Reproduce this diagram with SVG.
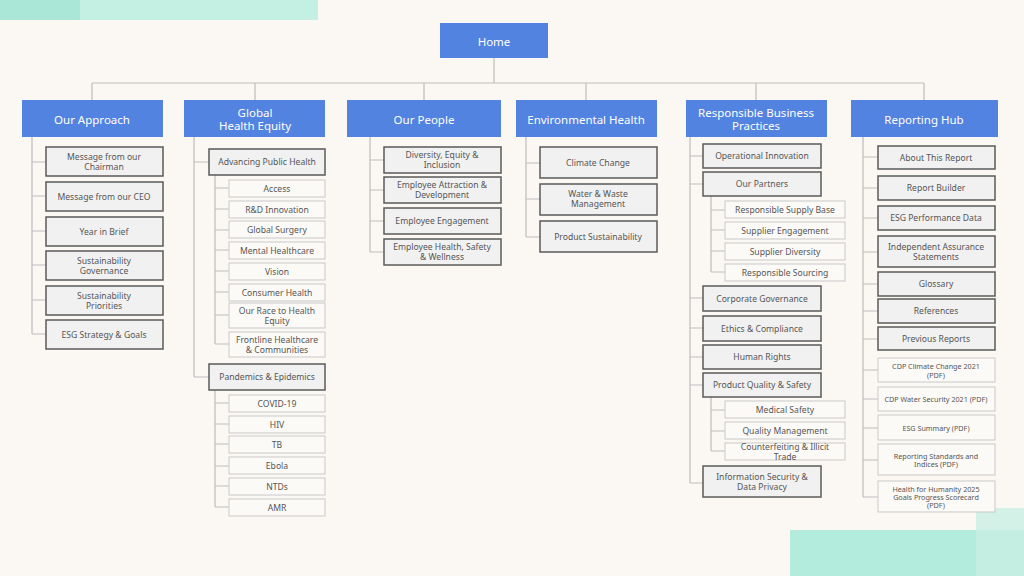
<svg xmlns="http://www.w3.org/2000/svg" width="1024" height="576" viewBox="0 0 1024 576">
<style>
text{font-family:"Noto Sans","Open Sans",sans-serif;text-anchor:middle;dominant-baseline:central}
.h rect{fill:#5383e0}
.h text{fill:#fff;font-size:11.5px}
.b rect{fill:#f1f1f1;stroke:#5a5a5a;stroke-width:1.5}
.b text{fill:#555;font-size:8.6px}
.l rect{fill:#fcfaf7;stroke:#c9c9c9;stroke-width:1}
.l text{fill:#555;font-size:8.6px}
.s text{font-size:7.2px}
#conn path{fill:none;stroke:#bdbdbd;stroke-width:1.2}
</style>
<rect width="1024" height="576" fill="#fbf8f4"/>
<rect x="0" y="0" width="318" height="20" fill="#c3f0e3"/>
<rect x="0" y="0" width="80" height="20" fill="#abe7d7"/>
<rect x="790" y="530" width="234" height="46" fill="#b3ecdc"/>
<rect x="976" y="508" width="48" height="68" fill="#c9efe4" opacity="0.8"/>
<g id="conn">
<path d="M494 58V83M92 83H924M92 83V100M255 83V100M424 83V100M586 83V100M756 83V100M924 83V100"/>
<path d="M32 137V334M32 162H46M32 196H46M32 231H46M32 265H46M32 300H46M32 334H46"/>
<path d="M194 137V377M194 162H209M194 377H209M215 175V344M215 188H229M215 209H229M215 230H229M215 250H229M215 271H229M215 292H229M215 315H229M215 344H229M215 390V507M215 403H229M215 424H229M215 444H229M215 466H229M215 486H229M215 507H229"/>
<path d="M370 137V252M370 160H384M370 190H384M370 221H384M370 252H384"/>
<path d="M526 137V237M526 163H540M526 199H540M526 237H540"/>
<path d="M690 137V483M690 156H703M690 184H703M690 298H703M690 328H703M690 357H703M690 385H703M690 483H703M711 196V272M711 210H725M711 230H725M711 251H725M711 272H725M711 397V451M711 410H725M711 431H725M711 451H725"/>
<path d="M863 137V497M863 157H878M863 188H878M863 218H878M863 252H878M863 284H878M863 311H878M863 339H878M863 370H878M863 399H878M863 428H878M863 460H878M863 497H878"/>
</g>
<g id="home" class="h"><rect x="440" y="23" width="108" height="35"/><text x="494" y="41">Home</text></g>
<g id="approach" class="h"><rect x="22" y="100" width="141" height="37"/><text x="92" y="119">Our Approach</text></g>
<g id="ghe" class="h"><rect x="184" y="100" width="141" height="37"/><text x="255" y="112">Global</text><text x="255" y="125.5">Health Equity</text></g>
<g id="people" class="h"><rect x="347" y="100" width="154" height="37"/><text x="424" y="119">Our People</text></g>
<g id="env" class="h"><rect x="516" y="100" width="141" height="37"/><text x="586" y="119">Environmental Health</text></g>
<g id="rbp" class="h"><rect x="686" y="100" width="141" height="37"/><text x="756" y="112">Responsible Business</text><text x="756" y="125.5">Practices</text></g>
<g id="hub" class="h"><rect x="851" y="100" width="147" height="37"/><text x="924" y="119">Reporting Hub</text></g>

<g id="a1" class="b"><rect x="46" y="147" width="117" height="29"/><text x="104" y="157">Message from our</text><text x="104" y="167">Chairman</text></g>
<g id="a2" class="b"><rect x="46" y="182" width="117" height="29"/><text x="104" y="197">Message from our CEO</text></g>
<g id="a3" class="b"><rect x="46" y="217" width="117" height="29"/><text x="104" y="232">Year in Brief</text></g>
<g id="a4" class="b"><rect x="46" y="251" width="117" height="29"/><text x="104" y="261">Sustainability</text><text x="104" y="271">Governance</text></g>
<g id="a5" class="b"><rect x="46" y="286" width="117" height="29"/><text x="104" y="296">Sustainability</text><text x="104" y="306">Priorities</text></g>
<g id="a6" class="b"><rect x="46" y="320" width="117" height="29"/><text x="104" y="335">ESG Strategy &amp; Goals</text></g>

<g id="g1" class="b"><rect x="209" y="149" width="116" height="26"/><text x="267" y="162">Advancing Public Health</text></g>
<g id="g1a" class="l"><rect x="229" y="180" width="96" height="17"/><text x="277" y="188.5">Access</text></g>
<g id="g1b" class="l"><rect x="229" y="201" width="96" height="17"/><text x="277" y="209.5">R&amp;D Innovation</text></g>
<g id="g1c" class="l"><rect x="229" y="221" width="96" height="17"/><text x="277" y="229.5">Global Surgery</text></g>
<g id="g1d" class="l"><rect x="229" y="242" width="96" height="17"/><text x="277" y="250.5">Mental Healthcare</text></g>
<g id="g1e" class="l"><rect x="229" y="263" width="96" height="17"/><text x="277" y="271.5">Vision</text></g>
<g id="g1f" class="l"><rect x="229" y="284" width="96" height="17"/><text x="277" y="292.5">Consumer Health</text></g>
<g id="g1g" class="l"><rect x="229" y="303" width="96" height="25"/><text x="277" y="311">Our Race to Health</text><text x="277" y="321">Equity</text></g>
<g id="g1h" class="l"><rect x="229" y="332" width="96" height="25"/><text x="277" y="340">Frontline Healthcare</text><text x="277" y="350">&amp; Communities</text></g>
<g id="g2" class="b"><rect x="209" y="364" width="116" height="26"/><text x="267" y="377">Pandemics &amp; Epidemics</text></g>
<g id="g2a" class="l"><rect x="229" y="395" width="96" height="17"/><text x="277" y="403.5">COVID-19</text></g>
<g id="g2b" class="l"><rect x="229" y="416" width="96" height="17"/><text x="277" y="424.5">HIV</text></g>
<g id="g2c" class="l"><rect x="229" y="436" width="96" height="17"/><text x="277" y="444.5">TB</text></g>
<g id="g2d" class="l"><rect x="229" y="457" width="96" height="17"/><text x="277" y="465.5">Ebola</text></g>
<g id="g2e" class="l"><rect x="229" y="478" width="96" height="17"/><text x="277" y="486.5">NTDs</text></g>
<g id="g2f" class="l"><rect x="229" y="499" width="96" height="17"/><text x="277" y="507.5">AMR</text></g>

<g id="p1" class="b"><rect x="384" y="147" width="117" height="26"/><text x="442" y="155">Diversity, Equity &amp;</text><text x="442" y="165">Inclusion</text></g>
<g id="p2" class="b"><rect x="384" y="177" width="117" height="26"/><text x="442" y="185">Employee Attraction &amp;</text><text x="442" y="195">Development</text></g>
<g id="p3" class="b"><rect x="384" y="208" width="117" height="26"/><text x="442" y="221">Employee Engagement</text></g>
<g id="p4" class="b"><rect x="384" y="239" width="117" height="26"/><text x="442" y="247">Employee Health, Safety</text><text x="442" y="257">&amp; Wellness</text></g>

<g id="e1" class="b"><rect x="540" y="147" width="117" height="31"/><text x="598" y="163">Climate Change</text></g>
<g id="e2" class="b"><rect x="540" y="184" width="117" height="31"/><text x="598" y="194">Water &amp; Waste</text><text x="598" y="204">Management</text></g>
<g id="e3" class="b"><rect x="540" y="221" width="117" height="31"/><text x="598" y="237">Product Sustainability</text></g>

<g id="r1" class="b"><rect x="703" y="144" width="118" height="24"/><text x="762" y="156">Operational Innovation</text></g>
<g id="r2" class="b"><rect x="703" y="172" width="118" height="24"/><text x="762" y="184">Our Partners</text></g>
<g id="r2a" class="l"><rect x="725" y="201" width="120" height="17"/><text x="785" y="209.5">Responsible Supply Base</text></g>
<g id="r2b" class="l"><rect x="725" y="222" width="120" height="17"/><text x="785" y="230.5">Supplier Engagement</text></g>
<g id="r2c" class="l"><rect x="725" y="243" width="120" height="17"/><text x="785" y="251.5">Supplier Diversity</text></g>
<g id="r2d" class="l"><rect x="725" y="264" width="120" height="17"/><text x="785" y="272.5">Responsible Sourcing</text></g>
<g id="r3" class="b"><rect x="703" y="286" width="118" height="25"/><text x="762" y="298.5">Corporate Governance</text></g>
<g id="r4" class="b"><rect x="703" y="316" width="118" height="25"/><text x="762" y="328.5">Ethics &amp; Compliance</text></g>
<g id="r5" class="b"><rect x="703" y="345" width="118" height="24"/><text x="762" y="357">Human Rights</text></g>
<g id="r6" class="b"><rect x="703" y="373" width="118" height="24"/><text x="762" y="385">Product Quality &amp; Safety</text></g>
<g id="r6a" class="l"><rect x="725" y="401" width="120" height="17"/><text x="785" y="409.5">Medical Safety</text></g>
<g id="r6b" class="l"><rect x="725" y="422" width="120" height="17"/><text x="785" y="430.5">Quality Management</text></g>
<g id="r6c" class="l"><rect x="725" y="443" width="120" height="17"/><text x="785" y="447">Counterfeiting &amp; Illicit</text><text x="785" y="457">Trade</text></g>
<g id="r7" class="b"><rect x="703" y="466" width="118" height="31"/><text x="762" y="477">Information Security &amp;</text><text x="762" y="487">Data Privacy</text></g>

<g id="h1" class="b"><rect x="878" y="146" width="117" height="23"/><text x="936" y="157.5">About This Report</text></g>
<g id="h2" class="b"><rect x="878" y="176" width="117" height="24"/><text x="936" y="188">Report Builder</text></g>
<g id="h3" class="b"><rect x="878" y="206" width="117" height="24"/><text x="936" y="218">ESG Performance Data</text></g>
<g id="h4" class="b"><rect x="878" y="236" width="117" height="31"/><text x="936" y="247">Independent Assurance</text><text x="936" y="257">Statements</text></g>
<g id="h5" class="b"><rect x="878" y="272" width="117" height="24"/><text x="936" y="284">Glossary</text></g>
<g id="h6" class="b"><rect x="878" y="299" width="117" height="24"/><text x="936" y="311">References</text></g>
<g id="h7" class="b"><rect x="878" y="327" width="117" height="23"/><text x="936" y="338.5">Previous Reports</text></g>
<g id="h8" class="l s"><rect x="878" y="358" width="117" height="24"/><text x="936" y="366">CDP Climate Change 2021</text><text x="936" y="375">(PDF)</text></g>
<g id="h9" class="l s"><rect x="878" y="387" width="117" height="24"/><text x="936" y="399">CDP Water Security 2021 (PDF)</text></g>
<g id="h10" class="l s"><rect x="878" y="415" width="117" height="25"/><text x="936" y="428">ESG Summary (PDF)</text></g>
<g id="h11" class="l s"><rect x="878" y="444" width="117" height="31"/><text x="936" y="456">Reporting Standards and</text><text x="936" y="464">Indices (PDF)</text></g>
<g id="h12" class="l s"><rect x="878" y="481" width="117" height="31"/><text x="936" y="489">Health for Humanity 2025</text><text x="936" y="497">Goals Progress Scorecard</text><text x="936" y="505">(PDF)</text></g>
</svg>
